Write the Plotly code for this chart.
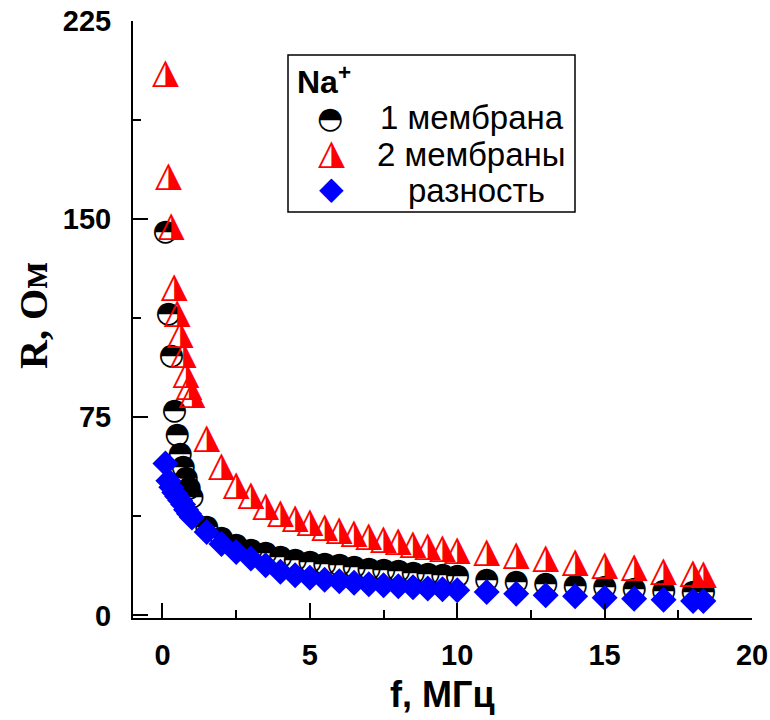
import plotly.graph_objects as go

# ---------------- data ----------------
freq = [0.1, 0.2, 0.3, 0.4, 0.5, 0.6, 0.7, 0.8, 0.9, 1.0,
        1.5, 2.0, 2.5, 3.0, 3.5, 4.0, 4.5, 5.0, 5.5, 6.0, 6.5, 7.0, 7.5, 8.0,
        8.5, 9.0, 9.5, 10.0, 11, 12, 13, 14, 15, 16, 17, 18, 18.35]

r_one = [145, 114, 98, 77, 68, 61, 56, 52, 48, 44.5,
         33.4, 29.0, 26.5, 24.6, 23.4, 22.0, 20.8, 20.0, 19.3, 18.7, 18.0, 17.5, 17.0, 16.5,
         16.0, 15.5, 15.0, 14.6, 13.3, 12.6, 11.7, 11.0, 10.4, 9.7, 9.2, 8.6, 8.6]

r_two = [205, 166, 147, 124, 114, 106, 98.5, 91, 86.5, 83.3,
         66.5, 56.0, 49.0, 45.0, 41.0, 38.3, 36.4, 34.7, 33.1, 31.8, 30.7, 29.6, 28.6, 27.6,
         26.6, 25.7, 24.9, 24.2, 23.4, 22.3, 21.1, 19.8, 18.6, 17.7, 16.4, 15.5, 15.2]

r_diff = [57.5, 51, 48.5, 46.5, 45, 43.5, 42, 40, 38.5, 37,
          31.6, 27.0, 24.0, 21.5, 19.0, 16.5, 15.2, 14.2, 13.5, 12.9, 12.3, 11.8, 11.4, 11.0,
          10.6, 10.2, 9.9, 9.5, 8.8, 8.2, 7.6, 7.2, 6.7, 6.3, 5.9, 5.4, 5.4]

x_ticks = [0, 5, 10, 15, 20]
y_ticks = [0, 75, 150, 225]
legend_title = "Na<sup>+</sup>"
series_names = ["1 мембрана", "2 мембраны", "разность"]
x_title = "f, МГц"
y_title = "R, Ом"

# ---------------- layout geometry ----------------
W, H = 770, 720
L, R, T, B = 133, 18, 21, 102
PW, PH = W - L - R, H - T - B


def px(xp):
    return (xp - L) / PW


def py(yp):
    return (H - B - yp) / PH


GLYPH_FONT = "DejaVu Sans"
SANS = "Liberation Sans"
CIRC_SIZE = 30
TRI_SIZE = 35

fig = go.Figure()

fig.add_trace(go.Scatter(
    x=freq, y=r_one, mode="text", text=["◓"] * len(freq),
    textposition="middle center",
    textfont=dict(family=GLYPH_FONT, size=CIRC_SIZE, color="black"),
    showlegend=False, name=series_names[0]))

fig.add_trace(go.Scatter(
    x=freq, y=r_two, mode="text", text=["◮"] * len(freq),
    textposition="middle center",
    textfont=dict(family=GLYPH_FONT, size=TRI_SIZE, color="#ff0000"),
    showlegend=False, name=series_names[1]))

fig.add_trace(go.Scatter(
    x=freq, y=r_diff, mode="markers",
    marker=dict(symbol="diamond", size=20, color="#0000ff", line=dict(width=0)),
    showlegend=False, name=series_names[2]))

axis_common = dict(
    showgrid=False, zeroline=False, showline=True, linecolor="black", linewidth=2,
    ticks="inside", tickcolor="black", tickwidth=2, ticklen=15,
    tickfont=dict(family=SANS, size=29, color="black", weight="bold"),
    mirror=False, automargin=False,
)

fig.update_xaxes(range=[-1, 20], tickvals=x_ticks, ticklabelstandoff=10,
                 minor=dict(ticks="inside", ticklen=8, tickwidth=2, tickcolor="black",
                            tick0=0, dtick=2.5),
                 **axis_common)
fig.update_yaxes(range=[-1, 225], tickvals=y_ticks, ticklabelstandoff=14,
                 minor=dict(ticks="inside", ticklen=8, tickwidth=2, tickcolor="black",
                            tick0=0, dtick=37.5),
                 **axis_common)

annotations = [
    dict(text=x_title, x=0.5, y=py(694), xref="paper", yref="paper",
         xanchor="center", yanchor="middle", showarrow=False,
         font=dict(family=SANS, size=36, color="black", weight="bold")),
    dict(text=y_title, x=px(33), y=py(316), xref="paper", yref="paper", textangle=-90,
         xanchor="center", yanchor="middle", showarrow=False,
         font=dict(family="Liberation Serif", size=40, color="black", weight="bold")),
    # legend
    dict(text=legend_title, x=px(295), y=py(80), xref="paper", yref="paper",
         xanchor="left", yanchor="middle", showarrow=False,
         font=dict(family=SANS, size=32, color="black", weight="bold")),
    dict(text="◓", x=px(330), y=py(117), xref="paper", yref="paper",
         xanchor="center", yanchor="middle", showarrow=False,
         font=dict(family=GLYPH_FONT, size=CIRC_SIZE, color="black")),
    dict(text="◮", x=px(331), y=py(152), xref="paper", yref="paper",
         xanchor="center", yanchor="middle", showarrow=False,
         font=dict(family=GLYPH_FONT, size=TRI_SIZE, color="#ff0000")),
    dict(text="◆", x=px(331), y=py(188), xref="paper", yref="paper",
         xanchor="center", yanchor="middle", showarrow=False,
         font=dict(family=GLYPH_FONT, size=32, color="#0000ff")),
    dict(text=series_names[0], x=px(378), y=py(117), xref="paper", yref="paper",
         xanchor="left", yanchor="middle", showarrow=False,
         font=dict(family=SANS, size=33, color="black")),
    dict(text=series_names[1], x=px(375), y=py(154), xref="paper", yref="paper",
         xanchor="left", yanchor="middle", showarrow=False,
         font=dict(family=SANS, size=33, color="black")),
    dict(text=series_names[2], x=px(406), y=py(190), xref="paper", yref="paper",
         xanchor="left", yanchor="middle", showarrow=False,
         font=dict(family=SANS, size=33, color="black")),
]

shapes = [
    dict(type="rect", xref="paper", yref="paper", x0=px(288), x1=px(575),
         y0=py(212), y1=py(55), line=dict(color="black", width=1.5),
         fillcolor="rgba(0,0,0,0)"),
]

fig.update_layout(
    width=W, height=H,
    margin=dict(l=L, r=R, t=T, b=B),
    paper_bgcolor="white", plot_bgcolor="white",
    showlegend=False,
    annotations=annotations, shapes=shapes,
)

fig.write_html("out.html")
